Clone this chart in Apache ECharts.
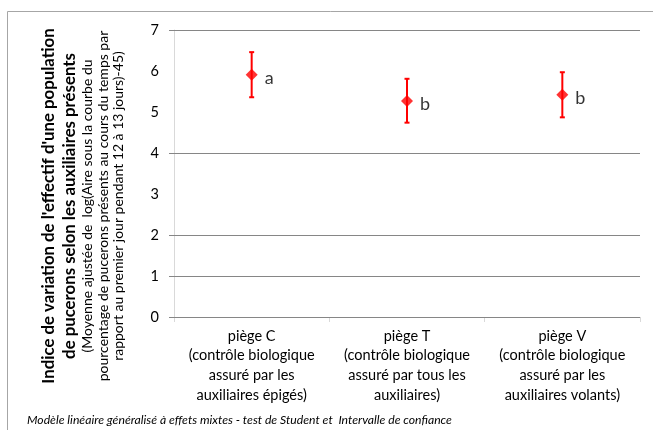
<!DOCTYPE html>
<html>
<head>
<meta charset="utf-8">
<script src="https://cdn.jsdelivr.net/npm/echarts@6/dist/echarts.min.js"></script>
<style>
  html, body { margin: 0; padding: 0; background: #fff; }
  #chart { width: 653px; height: 430px; }
</style>
</head>
<body>
<div id="chart"></div>
<script>
// Trap types (category axis)
const categories = [
  'piège C\n(contrôle biologique\nassuré par les\nauxiliaires épigés)',
  'piège T\n(contrôle biologique\nassuré par tous les\nauxiliaires)',
  'piège V\n(contrôle biologique\nassuré par les\nauxiliaires volants)'
];
// Adjusted means and confidence interval bounds
const means = [5.91, 5.27, 5.42];
const lower = [5.36, 4.74, 4.87];
const upper = [6.46, 5.81, 5.97];
// Significance group letters
const letters = ['a', 'b', 'b'];
// Y axis values and the gridlines drawn across the plot
const yTicks = [0, 1, 2, 3, 4, 5, 6, 7];
const gridValues = [0, 1, 2, 4, 7];

const FONT = 'Lato';
const chart = echarts.init(document.getElementById('chart'), null, { renderer: 'canvas' });

const errorData = categories.map((c, i) => [i, lower[i], upper[i]]);
const pointData = categories.map((c, i) => [i, means[i]]);

chart.setOption({
  animation: false,
  backgroundColor: '#ffffff',
  textStyle: { fontFamily: FONT },
  grid: { left: 174, right: 13, top: 30, bottom: 113, containLabel: false },
  xAxis: {
    type: 'category',
    data: categories,
    boundaryGap: true,
    axisLine: { show: true, lineStyle: { color: '#868686', width: 1 } },
    axisTick: { show: true, length: 5, lineStyle: { color: '#d9d9d9' } },
    axisLabel: {
      interval: 0,
      margin: 9,
      fontFamily: FONT,
      fontSize: 14.5,
      lineHeight: 19.7,
      color: '#000',
      align: 'center'
    },
    splitLine: { show: false }
  },
  yAxis: {
    type: 'value',
    min: yTicks[0],
    max: yTicks[yTicks.length - 1],
    interval: 1,
    axisLine: { show: true, lineStyle: { color: '#d9d9d9', width: 1 } },
    axisTick: { show: false },
    axisLabel: { margin: 15, fontFamily: FONT, fontSize: 14.5, color: '#000' },
    splitLine: { show: false }
  },
  graphic: [
    {
      type: 'polyline',
      shape: { points: [[7.5, 430], [7.5, 11.5], [653, 11.5]] },
      style: { stroke: '#a6a6a6', lineWidth: 1, fill: null },
      silent: true
    },
    {
      type: 'text',
      x: 82,
      y: 206,
      rotation: Math.PI / 2,
      style: {
        text: '{b|Indice de variation de l\'effectif d\'une population}\n' +
              '{b|de pucerons selon les auxiliaires présents}\n' +
              '{r|(Moyenne ajustée de  log(Aire sous la courbe du}\n' +
              '{r|pourcentage de pucerons présents au cours du temps par}\n' +
              '{r|rapport au premier jour pendant 12 à 13 jours)-45)}',
        align: 'center',
        verticalAlign: 'middle',
        fill: '#000',
        rich: {
          b: { fontFamily: FONT, fontSize: 16.8, fontWeight: 'bold', lineHeight: 21, align: 'center', fill: '#000' },
          r: { fontFamily: FONT, fontSize: 14, lineHeight: 15.5, align: 'center', fill: '#000' }
        }
      },
      silent: true
    },
    {
      type: 'text',
      x: 27,
      y: 420,
      style: {
        text: 'Modèle linéaire généralisé à effets mixtes - test de Student et  Intervalle de confiance',
        fontFamily: FONT,
        fontSize: 12.2,
        fontStyle: 'italic',
        fill: '#000',
        verticalAlign: 'middle'
      },
      silent: true
    }
  ],
  series: [
    {
      // horizontal gridlines with their small left tick
      type: 'custom',
      name: 'grid',
      silent: true,
      clip: false,
      z: 1,
      data: gridValues.map(v => [0, v]),
      renderItem: function (params, api) {
        const p = api.coord([0, api.value(1)]);
        const cs = params.coordSys;
        const y = Math.round(p[1]) + 0.5;
        return {
          type: 'line',
          shape: { x1: cs.x - 5, y1: y, x2: cs.x + cs.width, y2: y },
          style: { stroke: '#868686', lineWidth: 1 }
        };
      }
    },
    {
      // confidence interval bars
      type: 'custom',
      name: 'IC',
      silent: true,
      z: 3,
      data: errorData,
      renderItem: function (params, api) {
        const lo = api.coord([api.value(0), api.value(1)]);
        const hi = api.coord([api.value(0), api.value(2)]);
        const x = lo[0];
        const cap = 2.5;
        const st = { stroke: '#ff0000', lineWidth: 2 };
        return {
          type: 'group',
          children: [
            { type: 'line', shape: { x1: x, y1: lo[1], x2: x, y2: hi[1] }, style: st },
            { type: 'line', shape: { x1: x - cap, y1: lo[1], x2: x + cap, y2: lo[1] }, style: st },
            { type: 'line', shape: { x1: x - cap, y1: hi[1], x2: x + cap, y2: hi[1] }, style: st }
          ]
        };
      }
    },
    {
      type: 'scatter',
      name: 'Moyenne',
      z: 4,
      symbol: 'diamond',
      symbolSize: [12, 12],
      itemStyle: { color: '#ff0000' },
      data: pointData,
      label: {
        show: true,
        position: 'right',
        distance: 7,
        offset: [0, 3],
        fontFamily: FONT,
        fontSize: 18,
        color: '#000',
        formatter: p => letters[p.dataIndex]
      }
    }
  ]
});
</script>
</body>
</html>
